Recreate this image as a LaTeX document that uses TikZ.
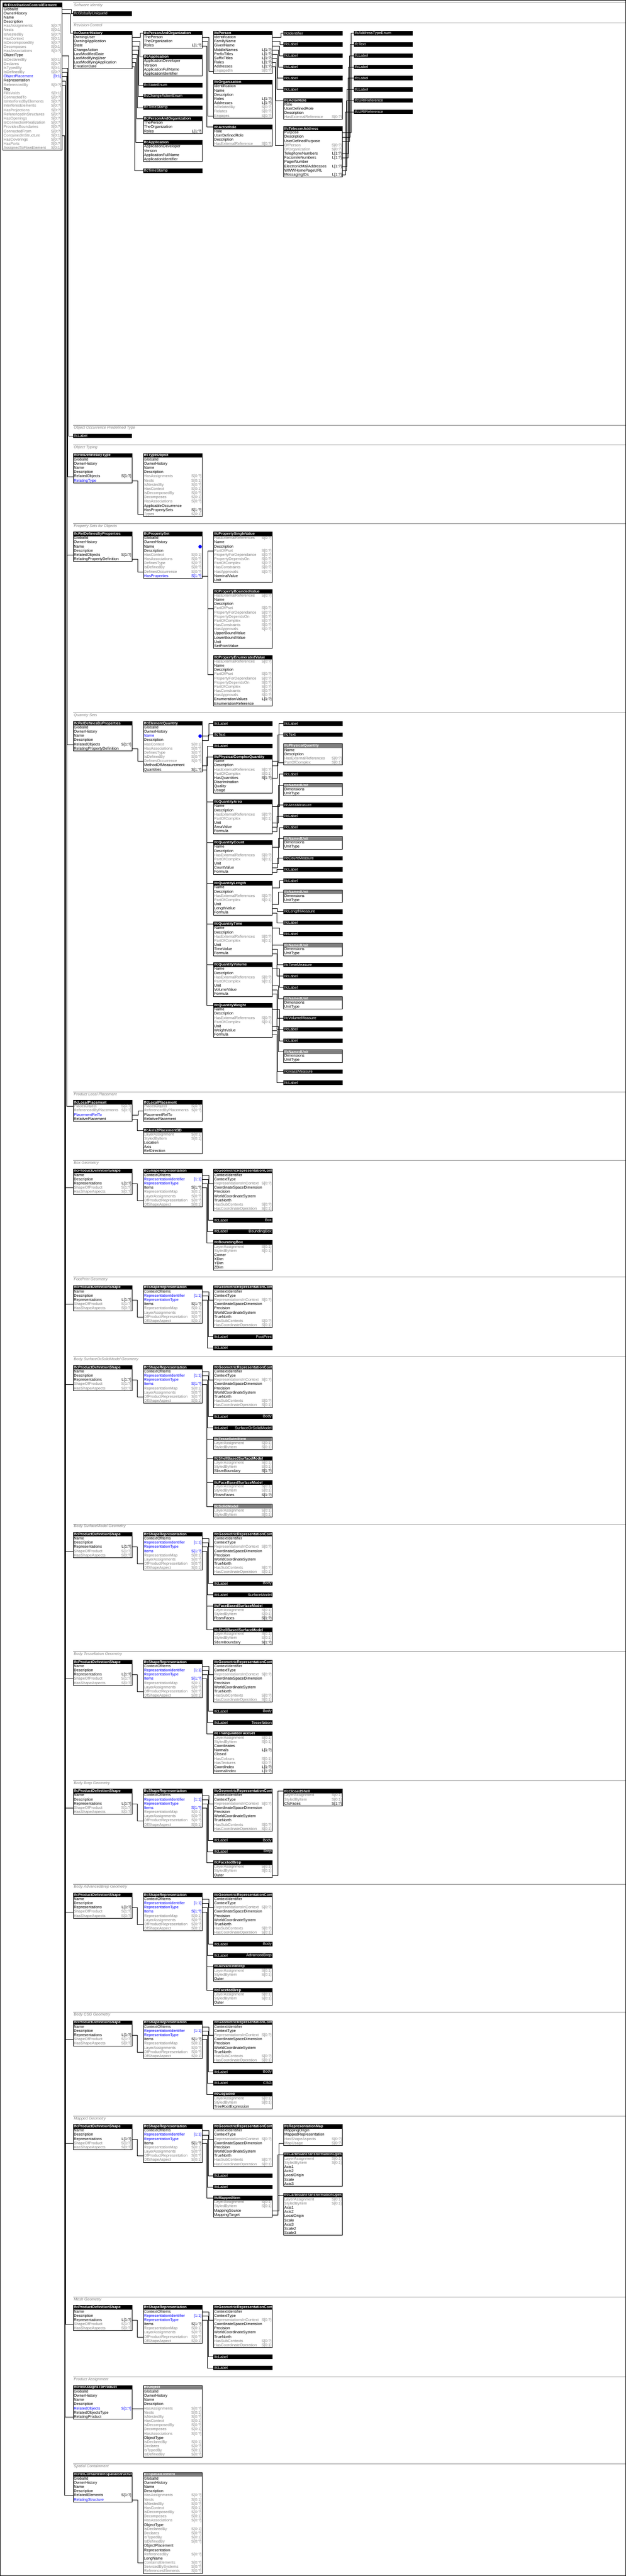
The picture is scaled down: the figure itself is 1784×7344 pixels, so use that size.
\documentclass[tikz,border=0pt]{standalone}
\usepackage{fontspec}
\setmainfont{Liberation Sans}
\usepackage{tikz}

\definecolor{cN}{RGB}{0,0,0}
\definecolor{cG}{RGB}{128,128,128}
\definecolor{cB}{RGB}{0,0,255}
\definecolor{hdrgray}{RGB}{128,128,128}
\definecolor{secgray}{RGB}{128,128,128}

\newcommand{\rowfont}{\fontsize{11}{12}\selectfont}
\newcommand{\hdrfont}{\fontsize{10.6}{12}\selectfont\bfseries}

\tikzset{
  hdrcell/.style={rectangle, inner sep=0pt, outer sep=0pt, minimum width=168pt, minimum height=12pt},
  hdrtxt/.style={anchor=west, inner xsep=2pt, inner ysep=0pt, text=white, font=\hdrfont},
  rowcell/.style={rectangle, inner xsep=2pt, inner ysep=0pt, outer sep=0pt, text width=164pt, align=left,
    minimum height=12pt, text height=8.5pt, text depth=2.5pt, font=\rowfont},
  cardtxt/.style={anchor=east, inner xsep=2pt, inner ysep=0pt, text height=8.5pt, text depth=2.5pt, font=\rowfont},
  typcell/.style={rectangle, fill=black, inner sep=0pt, outer sep=0pt, minimum width=168pt, minimum height=12.5pt},
  typtxt/.style={anchor=west, inner xsep=2pt, inner ysep=0pt, text=white, font=\rowfont},
  valtxt/.style={anchor=east, inner xsep=2pt, inner ysep=0pt, text=white, font=\rowfont},
  boxline/.style={draw=black, line width=1pt},
  conn/.style={draw=black, line width=1pt},
  secline/.style={draw=secgray, line width=1pt},
  sectxt/.style={anchor=west, inner sep=0pt, text=secgray, font=\rowfont\itshape},
}

% entity: [header fill]{id}{x}{y}{title}{colour/attribute/cardinality,...}
\newcommand{\entbox}[6][black]{%
  \node[hdrcell,fill=#1] (#2) at (#3+84,#4+6) {};
  \begin{scope}
    \clip (#2.north west) rectangle (#2.south east);
    \node[hdrtxt] (#2-t) at (#2.west) {#5};
  \end{scope}
  \foreach \k/\lab/\card [count=\i] in {#6} {
    \node[rowcell,text=c\k] (#2-\i) at (#3+84,#4+6+12*\i) {\lab};
    \node[cardtxt,text=c\k] (#2-\i-c) at (#2-\i.east) {\card};
    \xdef\lastrow{\i}
  }
  \draw[boxline] (#2.north west) rectangle (#2-\lastrow.south east);
}
% defined type: [value]{id}{x}{y}{title}
\newcommand{\typbox}[5][]{%
  \node[typcell] (#2) at (#3+84,#4+6.25) {};
  \node[typtxt] (#2-t) at (#2.west) {#5};
  \node[valtxt] (#2-v) at (#2.east) {#1};
}
% section rule: {id}{y}{title}
\newcommand{\secrule}[3]{%
  \draw[secline] (208,#2) -- (1783,#2);
  \node[sectxt] (#1) at (210.5,#2+7.5) {#3};
}
% connector: [bus offset]{from row}{to}
\newcommand{\lnk}[3][16]{\draw[conn] (#2.east) -- ++(#1,0) |- (#3.west);}
% shape representation chain: {prefix}{y}{colour of Items}
\newcommand{\shapeset}[3]{%
  \entbox{#1pds}{208.5}{#2}{IfcProductDefinitionShape}{N/Name/,N/Description/,N/Representations/L[1:?],G/ShapeOfProduct/S[1:?],G/HasShapeAspects/S[0:?]}
  \entbox{#1sr}{408.5}{#2}{IfcShapeRepresentation}{N/ContextOfItems/,B/RepresentationIdentifier/[1:1],B/RepresentationType/,#3/Items/S[1:?],G/RepresentationMap/S[0:1],G/LayerAssignments/S[0:?],G/OfProductRepresentation/S[0:?],G/OfShapeAspect/S[0:1]}
  \entbox{#1grc}{608.5}{#2}{IfcGeometricRepresentationContext}{N/ContextIdentifier/,N/ContextType/,G/RepresentationsInContext/S[0:?],N/CoordinateSpaceDimension/,N/Precision/,N/WorldCoordinateSystem/,N/TrueNorth/,G/HasSubContexts/S[0:?],G/HasCoordinateOperation/S[0:1]}
  \lnk[11]{main-18}{#1pds-4}
  \lnk[15]{#1pds-3}{#1sr-7}
  \lnk[19.4]{#1sr-1}{#1grc-3}
}

\begin{document}
\begin{tikzpicture}[x=1pt,y=-1pt]
\useasboundingbox (0,0) rectangle (1784,7344);
\draw[boxline] (0.5,0.5) rectangle (1783.5,7343.5);

% the element itself
\entbox{main}{8.5}{8.5}{IfcDistributionControlElement}{N/GlobalId/,N/OwnerHistory/,N/Name/,N/Description/,G/HasAssignments/S[0:?],G/Nests/S[0:1],G/IsNestedBy/S[0:?],G/HasContext/S[0:1],G/IsDecomposedBy/S[0:?],G/Decomposes/S[0:1],G/HasAssociations/S[0:?],N/ObjectType/,G/IsDeclaredBy/S[0:1],G/Declares/S[0:?],G/IsTypedBy/S[0:1],G/IsDefinedBy/S[0:?],B/ObjectPlacement/[0:1],N/Representation/,G/ReferencedBy/S[0:?],N/Tag/,G/FillsVoids/S[0:1],G/ConnectedTo/S[0:?],G/IsInterferedByElements/S[0:?],G/InterferesElements/S[0:?],G/HasProjections/S[0:?],G/ReferencedInStructures/S[0:?],G/HasOpenings/S[0:?],G/IsConnectionRealization/S[0:?],G/ProvidesBoundaries/S[0:?],G/ConnectedFrom/S[0:?],G/ContainedInStructure/S[0:1],G/HasCoverings/S[0:?],G/HasPorts/S[0:?],G/AssignedToFlowElement/S[0:1]}

% Software Identity
\secrule{s1}{8.5}{Software Identity}
\typbox{gid}{208.5}{32.5}{IfcGloballyUniqueId}
\lnk[26.5]{main-1}{gid}

% Revision Control
\secrule{s2}{64.5}{Revision Control}
\entbox{oh}{208.5}{88.5}{IfcOwnerHistory}{N/OwningUser/,N/OwningApplication/,N/State/,N/ChangeAction/,N/LastModifiedDate/,N/LastModifyingUser/,N/LastModifyingApplication/,N/CreationDate/}
\lnk[24]{main-2}{oh}
\entbox{pao1}{408.5}{88.5}{IfcPersonAndOrganization}{N/ThePerson/,N/TheOrganization/,N/Roles/L[1:?]}
\entbox{app1}{408.5}{156.5}{IfcApplication}{N/ApplicationDeveloper/,N/Version/,N/ApplicationFullName/,N/ApplicationIdentifier/}
\typbox{ste}{408.5}{236.5}{IfcStateEnum}
\typbox{cae}{408.5}{268.5}{IfcChangeActionEnum}
\typbox{ts1}{408.5}{300.5}{IfcTimeStamp}
\entbox{pao2}{408.5}{332.5}{IfcPersonAndOrganization}{N/ThePerson/,N/TheOrganization/,N/Roles/L[1:?]}
\entbox{app2}{408.5}{400.5}{IfcApplication}{N/ApplicationDeveloper/,N/Version/,N/ApplicationFullName/,N/ApplicationIdentifier/}
\typbox{ts2}{408.5}{480.5}{IfcTimeStamp}
\lnk[24]{oh-1}{pao1}
\lnk[21.7]{oh-2}{app1}
\lnk[19.4]{oh-3}{ste}
\lnk[17.1]{oh-4}{cae}
\lnk[14.9]{oh-5}{ts1}
\lnk[12.6]{oh-6}{pao2}
\lnk[10.3]{oh-7}{app2}
\lnk[8]{oh-8}{ts2}

\entbox{per1}{608.5}{88.5}{IfcPerson}{N/Identification/,N/FamilyName/,N/GivenName/,N/MiddleNames/L[1:?],N/PrefixTitles/L[1:?],N/SuffixTitles/L[1:?],N/Roles/L[1:?],N/Addresses/L[1:?],G/EngagedIn/S[0:?]}
\entbox{org1}{608.5}{228.5}{IfcOrganization}{N/Identification/,N/Name/,N/Description/,N/Roles/L[1:?],N/Addresses/L[1:?],G/IsRelatedBy/S[0:?],G/Relates/S[0:?],G/Engages/S[0:?]}
\entbox{ar1}{608.5}{356.5}{IfcActorRole}{N/Role/,N/UserDefinedRole/,N/Description/,G/HasExternalReference/S[0:?]}
\lnk[18.3]{pao1-1}{per1-9}
\lnk[16]{pao1-2}{org1-8}
\lnk[13.7]{pao1-3}{ar1}

\typbox{id1}{808.5}{88.5}{IfcIdentifier}
\typbox{lb1}{808.5}{120.5}{IfcLabel}
\typbox{lb2}{808.5}{152.5}{IfcLabel}
\typbox{lb3}{808.5}{184.5}{IfcLabel}
\typbox{lb4}{808.5}{216.5}{IfcLabel}
\typbox{lb5}{808.5}{248.5}{IfcLabel}
\entbox{ar2}{808.5}{280.5}{IfcActorRole}{N/Role/,N/UserDefinedRole/,N/Description/,G/HasExternalReference/S[0:?]}
\entbox{tel1}{808.5}{360.5}{IfcTelecomAddress}{N/Purpose/,N/Description/,N/UserDefinedPurpose/,G/OfPerson/S[0:?],G/OfOrganization/S[0:?],N/TelephoneNumbers/L[1:?],N/FacsimileNumbers/L[1:?],N/PagerNumber/,N/ElectronicMailAddresses/L[1:?],N/WWWHomePageURL/,N/MessagingIDs/L[1:?]}
\lnk[24]{per1-1}{id1}
\lnk[21.7]{per1-2}{lb1}
\lnk[19.4]{per1-3}{lb2}
\lnk[17.1]{per1-4}{lb3}
\lnk[14.9]{per1-5}{lb4}
\lnk[12.6]{per1-6}{lb5}
\lnk[10.3]{per1-7}{ar2}
\lnk[8]{per1-8}{tel1-4}

\typbox{ate}{1008.5}{88.5}{IfcAddressTypeEnum}
\typbox{tx1}{1008.5}{120.5}{IfcText}
\typbox{lb6}{1008.5}{152.5}{IfcLabel}
\typbox{lb7}{1008.5}{184.5}{IfcLabel}
\typbox{lb8}{1008.5}{216.5}{IfcLabel}
\typbox{lb9}{1008.5}{248.5}{IfcLabel}
\typbox{uri1}{1008.5}{280.5}{IfcURIReference}
\typbox{uri2}{1008.5}{312.5}{IfcURIReference}
\lnk[24]{tel1-1}{ate}
\lnk[21.7]{tel1-2}{tx1}
\lnk[19.4]{tel1-3}{lb6}
\lnk[17.1]{tel1-6}{lb7}
\lnk[14.9]{tel1-7}{lb8}
\lnk[12.6]{tel1-9}{lb9}
\lnk[10.3]{tel1-10}{uri1}
\lnk[8]{tel1-11}{uri2}

% Object Occurrence Predefined Type
\secrule{s4}{1212.5}{Object Occurrence Predefined Type}
\typbox{ootl}{208.5}{1236.5}{IfcLabel}
\lnk[18.7]{main-12}{ootl}

% Object Typing
\secrule{s5}{1268.5}{Object Typing}
\entbox{rdt}{208.5}{1292.5}{IfcRelDefinesByType}{N/GlobalId/,N/OwnerHistory/,N/Name/,N/Description/,N/RelatedObjects/S[1:?],B/RelatingType/}
\entbox{tob}{408.5}{1292.5}{IfcTypeObject}{N/GlobalId/,N/OwnerHistory/,N/Name/,N/Description/,G/HasAssignments/S[0:?],G/Nests/S[0:1],G/IsNestedBy/S[0:?],G/HasContext/S[0:1],G/IsDecomposedBy/S[0:?],G/Decomposes/S[0:1],G/HasAssociations/S[0:?],N/ApplicableOccurrence/,N/HasPropertySets/S[1:?],G/Types/S[0:1]}
\lnk[16.8]{main-15}{rdt-5}
\lnk[16]{rdt-6}{tob-14}

% Property Sets for Objects
\secrule{s6}{1492.5}{Property Sets for Objects}
\entbox{rdp1}{208.5}{1516.5}{IfcRelDefinesByProperties}{N/GlobalId/,N/OwnerHistory/,N/Name/,N/Description/,N/RelatedObjects/S[1:?],N/RelatingPropertyDefinition/}
\entbox{pset}{408.5}{1516.5}{IfcPropertySet}{N/GlobalId/,N/OwnerHistory/,N/Name/,N/Description/,G/HasContext/S[0:1],G/HasAssociations/S[0:?],G/DefinesType/S[0:?],G/IsDefinedBy/S[0:?],G/DefinesOccurrence/S[0:?],B/HasProperties/S[1:?]}
\fill[cB] (pset-3.east) ++(-6,0) circle (5pt);
\entbox{psv}{608.5}{1516.5}{IfcPropertySingleValue}{G/HasExternalReferences/S[0:?],N/Name/,N/Description/,G/PartOfPset/S[0:?],G/PropertyForDependance/S[0:?],G/PropertyDependsOn/S[0:?],G/PartOfComplex/S[0:?],G/HasConstraints/S[0:?],G/HasApprovals/S[0:?],N/NominalValue/,N/Unit/}
\entbox{pbv}{608.5}{1680.5}{IfcPropertyBoundedValue}{G/HasExternalReferences/S[0:?],N/Name/,N/Description/,G/PartOfPset/S[0:?],G/PropertyForDependance/S[0:?],G/PropertyDependsOn/S[0:?],G/PartOfComplex/S[0:?],G/HasConstraints/S[0:?],G/HasApprovals/S[0:?],N/UpperBoundValue/,N/LowerBoundValue/,N/Unit/,N/SetPointValue/}
\entbox{pev}{608.5}{1868.5}{IfcPropertyEnumeratedValue}{G/HasExternalReferences/S[0:?],N/Name/,N/Description/,G/PartOfPset/S[0:?],G/PropertyForDependance/S[0:?],G/PropertyDependsOn/S[0:?],G/PartOfComplex/S[0:?],G/HasConstraints/S[0:?],G/HasApprovals/S[0:?],N/EnumerationValues/L[1:?],N/EnumerationReference/}
\lnk[14.9]{main-16}{rdp1-5}
\lnk[16]{rdp1-6}{pset-9}
\lnk[15.5]{pset-10}{psv-4}
\lnk[15.5]{pset-10}{pbv-4}
\lnk[15.5]{pset-10}{pev-4}

% Quantity Sets
\secrule{s7}{2032.5}{Quantity Sets}
\entbox{rdp2}{208.5}{2056.5}{IfcRelDefinesByProperties}{N/GlobalId/,N/OwnerHistory/,N/Name/,N/Description/,N/RelatedObjects/S[1:?],N/RelatingPropertyDefinition/}
\entbox{eq}{408.5}{2056.5}{IfcElementQuantity}{N/GlobalId/,N/OwnerHistory/,B/Name/,N/Description/,G/HasContext/S[0:1],G/HasAssociations/S[0:?],G/DefinesType/S[0:?],G/IsDefinedBy/S[0:?],G/DefinesOccurrence/S[0:?],N/MethodOfMeasurement/,N/Quantities/S[1:?]}
\fill[cB] (eq-3.east) ++(-6,0) circle (5pt);
\lnk[14.9]{main-16}{rdp2-5}
\lnk[16]{rdp2-6}{eq-9}
\typbox{qlb1}{608.5}{2056.5}{IfcLabel}
\typbox{qtx1}{608.5}{2088.5}{IfcText}
\typbox{qlb2}{608.5}{2120.5}{IfcLabel}
\entbox{pcq}{608.5}{2152.5}{IfcPhysicalComplexQuantity}{N/Name/,N/Description/,G/HasExternalReferences/S[0:?],G/PartOfComplex/S[0:1],N/HasQuantities/S[1:?],N/Discrimination/,N/Quality/,N/Usage/}
\entbox{qa}{608.5}{2280.5}{IfcQuantityArea}{N/Name/,N/Description/,G/HasExternalReferences/S[0:?],G/PartOfComplex/S[0:1],N/Unit/,N/AreaValue/,N/Formula/}
\entbox{qc}{608.5}{2396.5}{IfcQuantityCount}{N/Name/,N/Description/,G/HasExternalReferences/S[0:?],G/PartOfComplex/S[0:1],N/Unit/,N/CountValue/,N/Formula/}
\entbox{ql}{608.5}{2512.5}{IfcQuantityLength}{N/Name/,N/Description/,G/HasExternalReferences/S[0:?],G/PartOfComplex/S[0:1],N/Unit/,N/LengthValue/,N/Formula/}
\entbox{qt}{608.5}{2628.5}{IfcQuantityTime}{N/Name/,N/Description/,G/HasExternalReferences/S[0:?],G/PartOfComplex/S[0:1],N/Unit/,N/TimeValue/,N/Formula/}
\entbox{qv}{608.5}{2744.5}{IfcQuantityVolume}{N/Name/,N/Description/,G/HasExternalReferences/S[0:?],G/PartOfComplex/S[0:1],N/Unit/,N/VolumeValue/,N/Formula/}
\entbox{qw}{608.5}{2860.5}{IfcQuantityWeight}{N/Name/,N/Description/,G/HasExternalReferences/S[0:?],G/PartOfComplex/S[0:1],N/Unit/,N/WeightValue/,N/Formula/}
\lnk[19.4]{eq-3}{qlb1}
\lnk[17.1]{eq-4}{qtx1}
\lnk[14.9]{eq-10}{qlb2}
\lnk[12.6]{eq-11}{pcq}
\lnk[12.6]{eq-11}{qa}
\lnk[12.6]{eq-11}{qc}
\lnk[12.6]{eq-11}{ql}
\lnk[12.6]{eq-11}{qt}
\lnk[12.6]{eq-11}{qv}
\lnk[12.6]{eq-11}{qw}

\typbox{qx1}{808.5}{2056.5}{IfcLabel}
\typbox{qx2}{808.5}{2088.5}{IfcText}
\entbox[hdrgray]{pq}{808.5}{2120.5}{IfcPhysicalQuantity}{N/Name/,N/Description/,G/HasExternalReferences/S[0:?],G/PartOfComplex/S[0:1]}
\typbox{qx3}{808.5}{2200.5}{IfcLabel}
\entbox[hdrgray]{nu1}{808.5}{2232.5}{IfcNamedUnit}{N/Dimensions/,N/UnitType/}
\typbox{qx4}{808.5}{2288.5}{IfcAreaMeasure}
\typbox{qx5}{808.5}{2320.5}{IfcLabel}
\typbox{qx6}{808.5}{2352.5}{IfcLabel}
\entbox[hdrgray]{nu2}{808.5}{2384.5}{IfcNamedUnit}{N/Dimensions/,N/UnitType/}
\typbox{qx7}{808.5}{2440.5}{IfcCountMeasure}
\typbox{qx8}{808.5}{2472.5}{IfcLabel}
\typbox{qx9}{808.5}{2504.5}{IfcLabel}
\entbox[hdrgray]{nu3}{808.5}{2536.5}{IfcNamedUnit}{N/Dimensions/,N/UnitType/}
\typbox{qx10}{808.5}{2592.5}{IfcLengthMeasure}
\typbox{qx11}{808.5}{2624.5}{IfcLabel}
\typbox{qx12}{808.5}{2656.5}{IfcLabel}
\entbox[hdrgray]{nu4}{808.5}{2688.5}{IfcNamedUnit}{N/Dimensions/,N/UnitType/}
\typbox{qx13}{808.5}{2744.5}{IfcTimeMeasure}
\typbox{qx14}{808.5}{2776.5}{IfcLabel}
\typbox{qx15}{808.5}{2808.5}{IfcLabel}
\entbox[hdrgray]{nu5}{808.5}{2840.5}{IfcNamedUnit}{N/Dimensions/,N/UnitType/}
\typbox{qx16}{808.5}{2896.5}{IfcVolumeMeasure}
\typbox{qx17}{808.5}{2928.5}{IfcLabel}
\typbox{qx18}{808.5}{2960.5}{IfcLabel}
\entbox[hdrgray]{nu6}{808.5}{2992.5}{IfcNamedUnit}{N/Dimensions/,N/UnitType/}
\typbox{qx19}{808.5}{3048.5}{IfcMassMeasure}
\typbox{qx20}{808.5}{3080.5}{IfcLabel}
\lnk[18.3]{pcq-1}{qx1}
\lnk[16]{pcq-2}{qx2}
\lnk[13.7]{pcq-5}{pq-4}
\lnk[19.4]{qa-1}{qx3}
\lnk[17.1]{qa-5}{nu1}
\lnk[14.9]{qa-6}{qx4}
\lnk[12.6]{qa-7}{qx5}
\lnk[19.4]{qc-1}{qx6}
\lnk[17.1]{qc-5}{nu2}
\lnk[14.9]{qc-6}{qx7}
\lnk[12.6]{qc-7}{qx8}
\lnk[19.4]{ql-1}{qx9}
\lnk[17.1]{ql-5}{nu3}
\lnk[14.9]{ql-6}{qx10}
\lnk[12.6]{ql-7}{qx11}
\lnk[19.4]{qt-1}{qx12}
\lnk[17.1]{qt-5}{nu4}
\lnk[14.9]{qt-6}{qx13}
\lnk[12.6]{qt-7}{qx14}
\lnk[19.4]{qv-1}{qx15}
\lnk[17.1]{qv-5}{nu5}
\lnk[14.9]{qv-6}{qx16}
\lnk[12.6]{qv-7}{qx17}
\lnk[19.4]{qw-1}{qx18}
\lnk[17.1]{qw-5}{nu6}
\lnk[14.9]{qw-6}{qx19}
\lnk[12.6]{qw-7}{qx20}

% Product Local Placement
\secrule{s8}{3112.5}{Product Local Placement}
\entbox{lp1}{208.5}{3136.5}{IfcLocalPlacement}{G/PlacesObject/S[0:?],G/ReferencedByPlacements/S[0:?],B/PlacementRelTo/,N/RelativePlacement/}
\entbox{lp2}{408.5}{3136.5}{IfcLocalPlacement}{G/PlacesObject/S[0:?],G/ReferencedByPlacements/S[0:?],N/PlacementRelTo/,N/RelativePlacement/}
\entbox{a2p}{408.5}{3216.5}{IfcAxis2Placement3D}{G/LayerAssignment/S[0:1],G/StyledByItem/S[0:1],N/Location/,N/Axis/,N/RefDirection/}
\lnk[12.9]{main-17}{lp1-1}
\lnk[17.2]{lp1-3}{lp2-2}
\lnk[14.9]{lp1-4}{a2p}

% Box Geometry
\secrule{s9}{3308.5}{Box Geometry}
\shapeset{bx}{3332.5}{N}
\typbox[Box]{bxl1}{608.5}{3472.5}{IfcLabel}
\typbox[BoundingBox]{bxl2}{608.5}{3504.5}{IfcLabel}
\entbox{bxbb}{608.5}{3536.5}{IfcBoundingBox}{G/LayerAssignment/S[0:1],G/StyledByItem/S[0:1],N/Corner/,N/XDim/,N/YDim/,N/ZDim/}
\lnk[17.1]{bxsr-2}{bxl1}
\lnk[14.9]{bxsr-3}{bxl2}
\lnk[12.6]{bxsr-4}{bxbb}

% FootPrint Geometry
\secrule{s10}{3640.5}{FootPrint Geometry}
\shapeset{fp}{3664.5}{N}
\typbox[FootPrint]{fpl1}{608.5}{3804.5}{IfcLabel}
\typbox{fpl2}{608.5}{3836.5}{IfcLabel}
\lnk[17.1]{fpsr-2}{fpl1}
\lnk[14.9]{fpsr-3}{fpl2}

% Body SurfaceOrSolidModel Geometry
\secrule{s11}{3868.5}{Body SurfaceOrSolidModel Geometry}
\shapeset{ss}{3892.5}{B}
\typbox[Body]{ssl1}{608.5}{4032.5}{IfcLabel}
\typbox[SurfaceOrSolidModel]{ssl2}{608.5}{4064.5}{IfcLabel}
\entbox[hdrgray]{sstes}{608.5}{4096.5}{IfcTessellatedItem}{G/LayerAssignment/S[0:1],G/StyledByItem/S[0:1]}
\entbox{sssbs}{608.5}{4152.5}{IfcShellBasedSurfaceModel}{G/LayerAssignment/S[0:1],G/StyledByItem/S[0:1],N/SbsmBoundary/S[1:?]}
\entbox{ssfbs}{608.5}{4220.5}{IfcFaceBasedSurfaceModel}{G/LayerAssignment/S[0:1],G/StyledByItem/S[0:1],N/FbsmFaces/S[1:?]}
\entbox[hdrgray]{sssol}{608.5}{4288.5}{IfcSolidModel}{G/LayerAssignment/S[0:1],G/StyledByItem/S[0:1]}
\lnk[17.1]{sssr-2}{ssl1}
\lnk[14.9]{sssr-3}{ssl2}
\lnk[12.6]{sssr-4}{sstes}
\lnk[12.6]{sssr-4}{sssbs}
\lnk[12.6]{sssr-4}{ssfbs}
\lnk[12.6]{sssr-4}{sssol}

% Body SurfaceModel Geometry
\secrule{s12}{4344.5}{Body SurfaceModel Geometry}
\shapeset{sm}{4368.5}{B}
\typbox[Body]{sml1}{608.5}{4508.5}{IfcLabel}
\typbox[SurfaceModel]{sml2}{608.5}{4540.5}{IfcLabel}
\entbox{smfbs}{608.5}{4572.5}{IfcFaceBasedSurfaceModel}{G/LayerAssignment/S[0:1],G/StyledByItem/S[0:1],N/FbsmFaces/S[1:?]}
\entbox{smsbs}{608.5}{4640.5}{IfcShellBasedSurfaceModel}{G/LayerAssignment/S[0:1],G/StyledByItem/S[0:1],N/SbsmBoundary/S[1:?]}
\lnk[17.1]{smsr-2}{sml1}
\lnk[14.9]{smsr-3}{sml2}
\lnk[12.6]{smsr-4}{smfbs}
\lnk[12.6]{smsr-4}{smsbs}

% Body Tessellation Geometry
\secrule{s13}{4708.5}{Body Tessellation Geometry}
\shapeset{ts}{4732.5}{B}
\typbox[Body]{tsl1}{608.5}{4872.5}{IfcLabel}
\typbox[Tessellation]{tsl2}{608.5}{4904.5}{IfcLabel}
\entbox{tstfs}{608.5}{4936.5}{IfcTriangulatedFaceSet}{G/LayerAssignment/S[0:1],G/StyledByItem/S[0:1],N/Coordinates/,N/Normals/L[1:?],N/Closed/,G/HasColours/S[0:1],G/HasTextures/S[0:?],N/CoordIndex/L[1:?],N/NormalIndex/L[1:?]}
\lnk[17.1]{tssr-2}{tsl1}
\lnk[14.9]{tssr-3}{tsl2}
\lnk[12.6]{tssr-4}{tstfs}

% Body Brep Geometry
\secrule{s14}{5076.5}{Body Brep Geometry}
\shapeset{br}{5100.5}{B}
\typbox[Body]{brl1}{608.5}{5240.5}{IfcLabel}
\typbox[Brep]{brl2}{608.5}{5272.5}{IfcLabel}
\entbox{brfb}{608.5}{5304.5}{IfcFacetedBrep}{G/LayerAssignment/S[0:1],G/StyledByItem/S[0:1],N/Outer/}
\entbox{brcs}{808.5}{5100.5}{IfcClosedShell}{G/LayerAssignment/S[0:1],G/StyledByItem/S[0:1],N/CfsFaces/S[1:?]}
\lnk[17.1]{brsr-2}{brl1}
\lnk[14.9]{brsr-3}{brl2}
\lnk[12.6]{brsr-4}{brfb}
\lnk[16]{brfb-3}{brcs}

% Body AdvancedBrep Geometry
\secrule{s15}{5372.5}{Body AdvancedBrep Geometry}
\shapeset{ab}{5396.5}{B}
\typbox[Body]{abl1}{608.5}{5536.5}{IfcLabel}
\typbox[AdvancedBrep]{abl2}{608.5}{5568.5}{IfcLabel}
\entbox{abab}{608.5}{5600.5}{IfcAdvancedBrep}{G/LayerAssignment/S[0:1],G/StyledByItem/S[0:1],N/Outer/}
\entbox{abfb}{608.5}{5668.5}{IfcFacetedBrep}{G/LayerAssignment/S[0:1],G/StyledByItem/S[0:1],N/Outer/}
\lnk[17.1]{absr-2}{abl1}
\lnk[14.9]{absr-3}{abl2}
\lnk[12.6]{absr-4}{abab}
\lnk[12.6]{absr-4}{abfb}

% Body CSG Geometry
\secrule{s16}{5736.5}{Body CSG Geometry}
\shapeset{cs}{5760.5}{N}
\typbox[Body]{csl1}{608.5}{5900.5}{IfcLabel}
\typbox[CSG]{csl2}{608.5}{5932.5}{IfcLabel}
\entbox{cscsg}{608.5}{5964.5}{IfcCsgSolid}{G/LayerAssignment/S[0:1],G/StyledByItem/S[0:1],N/TreeRootExpression/}
\lnk[17.1]{cssr-2}{csl1}
\lnk[14.9]{cssr-3}{csl2}
\lnk[12.6]{cssr-4}{cscsg}

% Mapped Geometry
\secrule{s17}{6032.5}{Mapped Geometry}
\shapeset{mp}{6056.5}{N}
\typbox{mpl1}{608.5}{6196.5}{IfcLabel}
\typbox{mpl2}{608.5}{6228.5}{IfcLabel}
\entbox{mpmi}{608.5}{6260.5}{IfcMappedItem}{G/LayerAssignment/S[0:1],G/StyledByItem/S[0:1],N/MappingSource/,N/MappingTarget/}
\entbox{mprm}{808.5}{6056.5}{IfcRepresentationMap}{N/MappingOrigin/,N/MappedRepresentation/,G/HasShapeAspects/S[0:?],G/MapUsage/S[0:?]}
\entbox{mpct1}{808.5}{6136.5}{IfcCartesianTransformationOperator3D}{G/LayerAssignment/S[0:1],G/StyledByItem/S[0:1],N/Axis1/,N/Axis2/,N/LocalOrigin/,N/Scale/,N/Axis3/}
\entbox{mpct2}{808.5}{6252.5}{IfcCartesianTransformationOperator3DnonUniform}{G/LayerAssignment/S[0:1],G/StyledByItem/S[0:1],N/Axis1/,N/Axis2/,N/LocalOrigin/,N/Scale/,N/Axis3/,N/Scale2/,N/Scale3/}
\lnk[17.1]{mpsr-2}{mpl1}
\lnk[14.9]{mpsr-3}{mpl2}
\lnk[12.6]{mpsr-4}{mpmi}
\lnk[18.5]{mpmi-3}{mprm-4}
\lnk[15.5]{mpmi-4}{mpct1}
\lnk[15.5]{mpmi-4}{mpct2}

% Mesh Geometry
\secrule{s18}{6548.5}{Mesh Geometry}
\shapeset{ms}{6572.5}{N}
\typbox{msl1}{608.5}{6712.5}{IfcLabel}
\typbox{msl2}{608.5}{6744.5}{IfcLabel}
\lnk[17.1]{mssr-2}{msl1}
\lnk[14.9]{mssr-3}{msl2}

% Product Assignment
\secrule{s19}{6776.5}{Product Assignment}
\entbox{rap}{208.5}{6800.5}{IfcRelAssignsToProduct}{N/GlobalId/,N/OwnerHistory/,N/Name/,N/Description/,B/RelatedObjects/S[1:?],N/RelatedObjectsType/,N/RelatingProduct/}
\entbox[hdrgray]{obj}{408.5}{6800.5}{IfcObject}{N/GlobalId/,N/OwnerHistory/,N/Name/,N/Description/,G/HasAssignments/S[0:?],G/Nests/S[0:1],G/IsNestedBy/S[0:?],G/HasContext/S[0:1],G/IsDecomposedBy/S[0:?],G/Decomposes/S[0:1],G/HasAssociations/S[0:?],N/ObjectType/,G/IsDeclaredBy/S[0:1],G/Declares/S[0:?],G/IsTypedBy/S[0:1],G/IsDefinedBy/S[0:?]}
\lnk[9.1]{main-19}{rap-7}
\lnk[16]{rap-5}{obj-5}

% Spatial Containment
\secrule{s20}{7024.5}{Spatial Containment}
\entbox{rcs}{208.5}{7048.5}{IfcRelContainedInSpatialStructure}{N/GlobalId/,N/OwnerHistory/,N/Name/,N/Description/,N/RelatedElements/S[1:?],B/RelatingStructure/}
\entbox[hdrgray]{spe}{408.5}{7048.5}{IfcSpatialElement}{N/GlobalId/,N/OwnerHistory/,N/Name/,N/Description/,G/HasAssignments/S[0:?],G/Nests/S[0:1],G/IsNestedBy/S[0:?],G/HasContext/S[0:1],G/IsDecomposedBy/S[0:?],G/Decomposes/S[0:1],G/HasAssociations/S[0:?],N/ObjectType/,G/IsDeclaredBy/S[0:1],G/Declares/S[0:?],G/IsTypedBy/S[0:1],G/IsDefinedBy/S[0:?],N/ObjectPlacement/,N/Representation/,G/ReferencedBy/S[0:?],N/LongName/,G/ContainsElements/S[0:?],G/ServicedBySystems/S[0:?],G/ReferencesElements/S[0:?]}
\lnk[7.2]{main-31}{rcs-5}
\lnk[16]{rcs-6}{spe-21}
\end{tikzpicture}
\end{document}
